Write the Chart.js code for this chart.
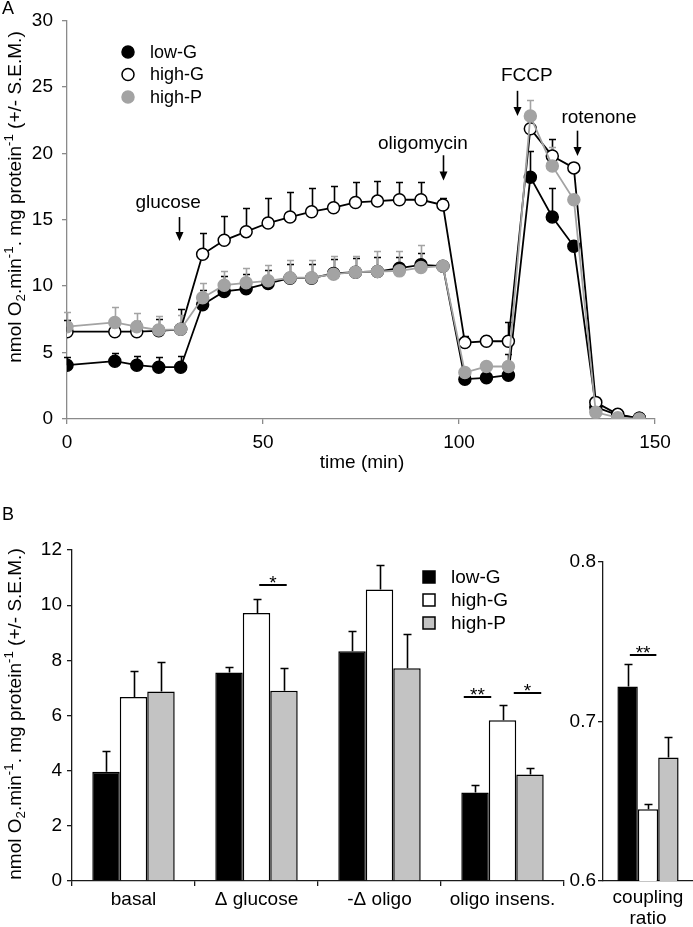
<!DOCTYPE html>
<html>
<head>
<meta charset="utf-8">
<script src="https://cdn.jsdelivr.net/npm/chart.js@4.4.1/dist/chart.umd.min.js"></script>
<style>
  body { margin: 0; background: #fff; }
  #fig { position: relative; width: 693px; height: 927px; font-family: 'Liberation Sans', Arial, sans-serif; color: #000; overflow: hidden; }
  canvas { position: absolute; }
  .lbl { position: absolute; white-space: nowrap; font-size: 19px; line-height: 1; }
  .ytitle { transform: translate(-50%, -50%) rotate(-90deg); }
  .ytitle sub, .ytitle sup { font-size: 70%; line-height: 0; }
</style>
</head>
<body>
<div id="fig">
  <canvas id="chartA" width="693" height="480" style="left:0;top:0"></canvas>
  <canvas id="chartC" width="133" height="447" style="left:560px;top:480px"></canvas>
  <canvas id="chartB" width="585" height="447" style="left:0;top:480px"></canvas>
  <div class="lbl" style="left:2px;top:-1px;font-size:18px">A</div>
  <div class="lbl" style="left:2px;top:505px;font-size:18px">B</div>
  <div class="lbl ytitle" style="left:14px;top:197px">nmol O<sub>2</sub>.min<sup>-1</sup>. mg protein<sup>-1</sup> (+/- S.E.M.)</div>
  <div class="lbl ytitle" style="left:14px;top:714px">nmol O<sub>2</sub>.min<sup>-1</sup>. mg protein<sup>-1</sup> (+/- S.E.M.)</div>
  <div class="lbl" style="left:362px;top:461px;transform:translate(-50%,-50%)">time (min)</div>
</div>

<script>
// ---- panel A: oxygen consumption trace ----
const times = [0, 12.2, 17.8, 23.4, 29, 34.6, 40.1, 45.7, 51.3, 56.9, 62.4, 68, 73.6, 79.2, 84.8, 90.3, 95.9, 101.5, 107, 112.6, 118.2, 123.8, 129.3, 134.9, 140.5, 146];
const lowG = [4.05, 4.35, 4.05, 3.9, 3.9, 8.6, 9.6, 9.8, 10.2, 10.6, 10.6, 10.95, 11.05, 11.1, 11.35, 11.6, 11.5, 3.0, 3.1, 3.3, 18.2, 15.2, 13.0, 0.9, 0.3, 0.05];
const lowGSem = [0.65, 0.65, 0.7, 0.8, 0.85, 1.1, 1.2, 1.15, 1.05, 1.1, 1.1, 1.1, 1.05, 1.1, 0.85, 0.9, null, null, null, 1.6, 1.95, 2.15, null, null, null, null];
const highG = [6.57, 6.57, 6.57, 6.64, 6.75, 12.4, 13.45, 14.1, 14.75, 15.2, 15.6, 15.9, 16.3, 16.4, 16.5, 16.5, 16.1, 5.75, 5.85, 5.85, 21.85, 19.8, 18.9, 1.25, 0.35, 0.05];
const highGSem = [0.88, 0.83, 0.83, 0.9, 1.55, 1.6, 1.8, 1.8, 1.9, 1.9, 1.8, 1.65, 1.55, 1.5, 1.35, 1.3, 0.55, 0.5, 0.4, 1.45, null, 1.3, null, null, null, null];
const highP = [6.95, 7.27, 6.95, 6.7, 6.75, 9.12, 10.07, 10.25, 10.4, 10.63, 10.63, 10.9, 11.05, 11.1, 11.15, 11.4, 11.5, 3.5, 3.95, 3.95, 22.8, 19.05, 16.5, 0.5, 0.1, 0.0];
const highPSem = [1.12, 1.18, 1.05, 1.05, 1.05, 1.08, 1.06, 1.15, 1.2, 1.32, 1.32, 1.35, 1.25, 1.55, 1.5, 1.7, null, null, null, null, 1.2, 1.45, null, null, null, null];

// injections marked with arrows (time, label)
const injections = [
  { text: 'glucose', t: 28.6, tText: 25.8, yText: 16.3, yFrom: 15.2, yTo: 13.4 },
  { text: 'oligomycin', t: 95.9, tText: 90.8, yText: 20.75, yFrom: 19.85, yTo: 17.95 },
  { text: 'FCCP', t: 114.8, tText: 117.3, yText: 25.8, yFrom: 24.7, yTo: 22.8 },
  { text: 'rotenone', t: 130.1, tText: 135.7, yText: 22.7, yFrom: 21.7, yTo: 19.8 }
];

// ---- panel B: summary bars ----
const categories = ['basal', 'Δ glucose', '-Δ oligo', 'oligo insens.'];
const barLowG = [3.96, 7.56, 8.33, 3.21];
const barLowGSem = [0.76, 0.2, 0.72, 0.27];
const barHighG = [6.67, 9.72, 10.57, 5.83];
const barHighGSem = [0.93, 0.52, 0.87, 0.55];
const barHighP = [6.87, 6.9, 7.71, 3.86];
const barHighPSem = [1.08, 0.81, 1.24, 0.23];

const ratioLabels = [['coupling', 'ratio']];
const ratioLowG = [0.722];
const ratioLowGSem = [0.014];
const ratioHighG = [0.645];
const ratioHighGSem = [0.003];
const ratioHighP = [0.6775];
const ratioHighPSem = [0.0125];

const grey = '#a3a3a3';
const barGrey = '#c3c3c3';
const FONT = "'Liberation Sans', Arial, sans-serif";
Chart.defaults.font.family = FONT;
Chart.defaults.color = '#000';

// vertical (upward) error bars from dataset.sem, using the chart's y scale
const errorBars = {
  id: 'errorBars',
  draw(chart, opts) {
    const ctx = chart.ctx;
    const y = chart.scales.y;
    const order = opts.order || chart.data.datasets.map((d, i) => i);
    order.forEach(i => {
      const ds = chart.data.datasets[i];
      if (!ds.sem) return;
      const meta = chart.getDatasetMeta(i);
      ctx.save();
      ctx.strokeStyle = ds.errColor || '#000';
      ctx.lineWidth = opts.lineWidth || 1.5;
      meta.data.forEach((el, j) => {
        const s = ds.sem[j];
        if (s == null) return;
        const raw = ds.data[j];
        const v = typeof raw === 'object' ? raw.y : raw;
        const x = Math.round(el.x) + 0.5;
        const y0 = y.getPixelForValue(v);
        const y1 = Math.round(y.getPixelForValue(v + s)) + 0.5;
        const cap = opts.cap || 4;
        ctx.beginPath();
        ctx.moveTo(x, y0);
        ctx.lineTo(x, y1);
        ctx.moveTo(x - cap, y1);
        ctx.lineTo(x + cap, y1);
        ctx.stroke();
      });
      ctx.restore();
    });
  },
  beforeDatasetsDraw(chart, args, opts) { if (opts.when === 'before') this.draw(chart, opts); },
  afterDatasetsDraw(chart, args, opts) { if (opts.when !== 'before') this.draw(chart, opts); }
};

// arrows + labels for injections in panel A
const arrowNotes = {
  id: 'arrowNotes',
  afterDraw(chart, args, opts) {
    const ctx = chart.ctx, xs = chart.scales.x, ys = chart.scales.y;
    ctx.save();
    ctx.fillStyle = '#000';
    ctx.strokeStyle = '#000';
    ctx.lineWidth = 1.6;
    ctx.font = '19px ' + FONT;
    ctx.textAlign = 'center';
    ctx.textBaseline = 'middle';
    opts.items.forEach(n => {
      ctx.fillText(n.text, xs.getPixelForValue(n.tText), ys.getPixelForValue(n.yText));
      const x = Math.round(xs.getPixelForValue(n.t)) + 0.5;
      const y0 = ys.getPixelForValue(n.yFrom), y1 = ys.getPixelForValue(n.yTo);
      ctx.beginPath();
      ctx.moveTo(x, y0);
      ctx.lineTo(x, y1 - 7);
      ctx.stroke();
      ctx.beginPath();
      ctx.moveTo(x - 4, y1 - 9);
      ctx.lineTo(x + 4, y1 - 9);
      ctx.lineTo(x, y1);
      ctx.closePath();
      ctx.fill();
    });
    ctx.restore();
  }
};

// hand-placed legend (circles or squares) built from dataset styles
const boxLegend = {
  id: 'boxLegend',
  afterDraw(chart, args, opts) {
    const ctx = chart.ctx;
    ctx.save();
    ctx.font = opts.fontSize + 'px ' + FONT;
    ctx.textBaseline = 'middle';
    ctx.textAlign = 'left';
    chart.data.datasets.forEach((ds, i) => {
      const y = opts.y + i * opts.step;
      const fill = ds.pointBackgroundColor || ds.backgroundColor;
      const stroke = ds.pointBorderColor || ds.borderColor;
      ctx.fillStyle = fill;
      ctx.strokeStyle = stroke;
      ctx.lineWidth = 1.5;
      ctx.beginPath();
      if (opts.shape === 'circle') ctx.arc(opts.x, y, 6, 0, Math.PI * 2);
      else ctx.rect(opts.x - 6, y - 6, 12, 12);
      ctx.fill();
      ctx.stroke();
      ctx.fillStyle = '#000';
      ctx.fillText(ds.label, opts.x + opts.gap, y + 1);
    });
    ctx.restore();
  }
};

// significance bars with stars
const sigMarks = {
  id: 'sigMarks',
  afterDraw(chart, args, opts) {
    const ctx = chart.ctx, xs = chart.scales.x, ys = chart.scales.y;
    const bw = chart.getDatasetMeta(0).data[0].width;
    ctx.save();
    ctx.strokeStyle = '#000';
    ctx.fillStyle = '#000';
    ctx.lineWidth = 2;
    ctx.font = '19px ' + FONT;
    ctx.textAlign = 'center';
    ctx.textBaseline = 'alphabetic';
    opts.items.forEach(m => {
      const cx = xs.getPixelForValue(m.cat) + m.offset * bw;
      const w = m.width * bw;
      const y = Math.round(ys.getPixelForValue(m.value));
      ctx.beginPath();
      ctx.moveTo(cx - w / 2, y);
      ctx.lineTo(cx + w / 2, y);
      ctx.stroke();
      ctx.fillText(m.label, cx, y + 4);
    });
    ctx.restore();
  }
};

function axisStyle(color, extra) {
  return Object.assign({
    grid: { drawOnChartArea: false, drawTicks: true, tickLength: 5, color: color, lineWidth: 1.3 },
    border: { display: true, color: color, width: 1.3 },
    ticks: { font: { size: 19 }, color: '#000', padding: 4 }
  }, extra);
}

function trace(label, values, sem, line, fill, order) {
  return {
    label: label,
    data: times.map((t, i) => ({ x: t, y: values[i] })),
    sem: sem,
    errColor: line,
    borderColor: line,
    backgroundColor: fill,
    pointBackgroundColor: fill,
    pointBorderColor: line,
    borderWidth: 1.8,
    pointRadius: 6,
    pointHoverRadius: 6,
    pointBorderWidth: 1.5,
    tension: 0,
    order: order
  };
}

new Chart(document.getElementById('chartA'), {
  type: 'line',
  data: {
    datasets: [
      trace('low-G', lowG, lowGSem, '#000', '#000', 2),
      trace('high-G', highG, highGSem, '#000', '#fff', 1),
      trace('high-P', highP, highPSem, grey, grey, 0)
    ]
  },
  options: {
    responsive: false,
    animation: false,
    layout: { padding: { left: 0, right: 38, top: 20, bottom: 0 } },
    plugins: {
      legend: { display: false },
      tooltip: { enabled: false },
      errorBars: { when: 'before', order: [0, 1, 2], cap: 3.5, lineWidth: 1.6 },
      arrowNotes: { items: injections },
      boxLegend: { shape: 'circle', x: 128, y: 52, step: 22.5, gap: 22, fontSize: 18 }
    },
    scales: {
      x: axisStyle('#8a8a8a', {
        type: 'linear', min: 0, max: 150,
        ticks: { stepSize: 50, font: { size: 19 }, color: '#000', padding: 7 },
        afterFit: s => { s.height = 61; }
      }),
      y: axisStyle('#8a8a8a', {
        min: 0, max: 30,
        ticks: { stepSize: 5, font: { size: 19 }, color: '#000', padding: 9 },
        afterFit: s => { s.width = 67; }
      })
    }
  },
  plugins: [errorBars, arrowNotes, boxLegend]
});

function barSet(label, values, sem, fill) {
  return {
    label: label,
    data: values,
    sem: sem,
    errColor: '#000',
    backgroundColor: fill,
    borderColor: '#000',
    borderWidth: 1.5,
    borderSkipped: 'bottom',
    categoryPercentage: 0.67,
    barPercentage: 1
  };
}

new Chart(document.getElementById('chartB'), {
  type: 'bar',
  data: {
    labels: categories,
    datasets: [
      barSet('low-G', barLowG, barLowGSem, '#000'),
      barSet('high-G', barHighG, barHighGSem, '#fff'),
      barSet('high-P', barHighP, barHighPSem, barGrey)
    ]
  },
  options: {
    responsive: false,
    animation: false,
    layout: { padding: { left: 0, right: 21, top: 70, bottom: 0 } },
    plugins: {
      legend: { display: false },
      tooltip: { enabled: false },
      errorBars: { when: 'after', cap: 4, lineWidth: 1.6 },
      boxLegend: { shape: 'box', x: 429, y: 97, step: 23, gap: 22, fontSize: 19 },
      sigMarks: { items: [
        { cat: 1, offset: 0.6, width: 1.0, value: 10.72, label: '*' },
        { cat: 3, offset: -0.91, width: 1.0, value: 6.67, label: '**' },
        { cat: 3, offset: 0.91, width: 1.0, value: 6.81, label: '*' }
      ] }
    },
    scales: {
      x: axisStyle('#1a1a1a', {
        grid: { offset: true, drawOnChartArea: false, drawTicks: true, tickLength: 5, color: '#1a1a1a', lineWidth: 1.3 },
        ticks: { font: { size: 19 }, color: '#000', padding: 2 },
        afterFit: s => { s.height = 46; }
      }),
      y: axisStyle('#1a1a1a', {
        min: 0, max: 12,
        ticks: { stepSize: 2, font: { size: 19 }, color: '#000', padding: 5 },
        afterFit: s => { s.width = 72; }
      })
    }
  },
  plugins: [errorBars, boxLegend, sigMarks]
});

new Chart(document.getElementById('chartC'), {
  type: 'bar',
  data: {
    labels: ratioLabels,
    datasets: [
      barSet('low-G', ratioLowG, ratioLowGSem, '#000'),
      barSet('high-G', ratioHighG, ratioHighGSem, '#fff'),
      barSet('high-P', ratioHighP, ratioHighPSem, barGrey)
    ].map(d => Object.assign(d, { categoryPercentage: 0.68 }))
  },
  options: {
    responsive: false,
    animation: false,
    layout: { padding: { left: 0, right: 0, top: 82, bottom: 0 } },
    plugins: {
      legend: { display: false },
      tooltip: { enabled: false },
      errorBars: { when: 'after', cap: 4, lineWidth: 1.6 },
      sigMarks: { items: [
        { cat: 0, offset: -0.24, width: 1.3, value: 0.742, label: '**' }
      ] }
    },
    scales: {
      x: axisStyle('#1a1a1a', {
        grid: { display: false },
        ticks: { font: { size: 19, lineHeight: 1.1 }, color: '#000', padding: -2 },
        afterFit: s => { s.height = 46; }
      }),
      y: axisStyle('#1a1a1a', {
        min: 0.6, max: 0.8,
        ticks: { stepSize: 0.1, font: { size: 19 }, color: '#000', padding: 2 },
        afterFit: s => { s.width = 43; }
      })
    }
  },
  plugins: [errorBars, sigMarks]
});
</script>
</body>
</html>
